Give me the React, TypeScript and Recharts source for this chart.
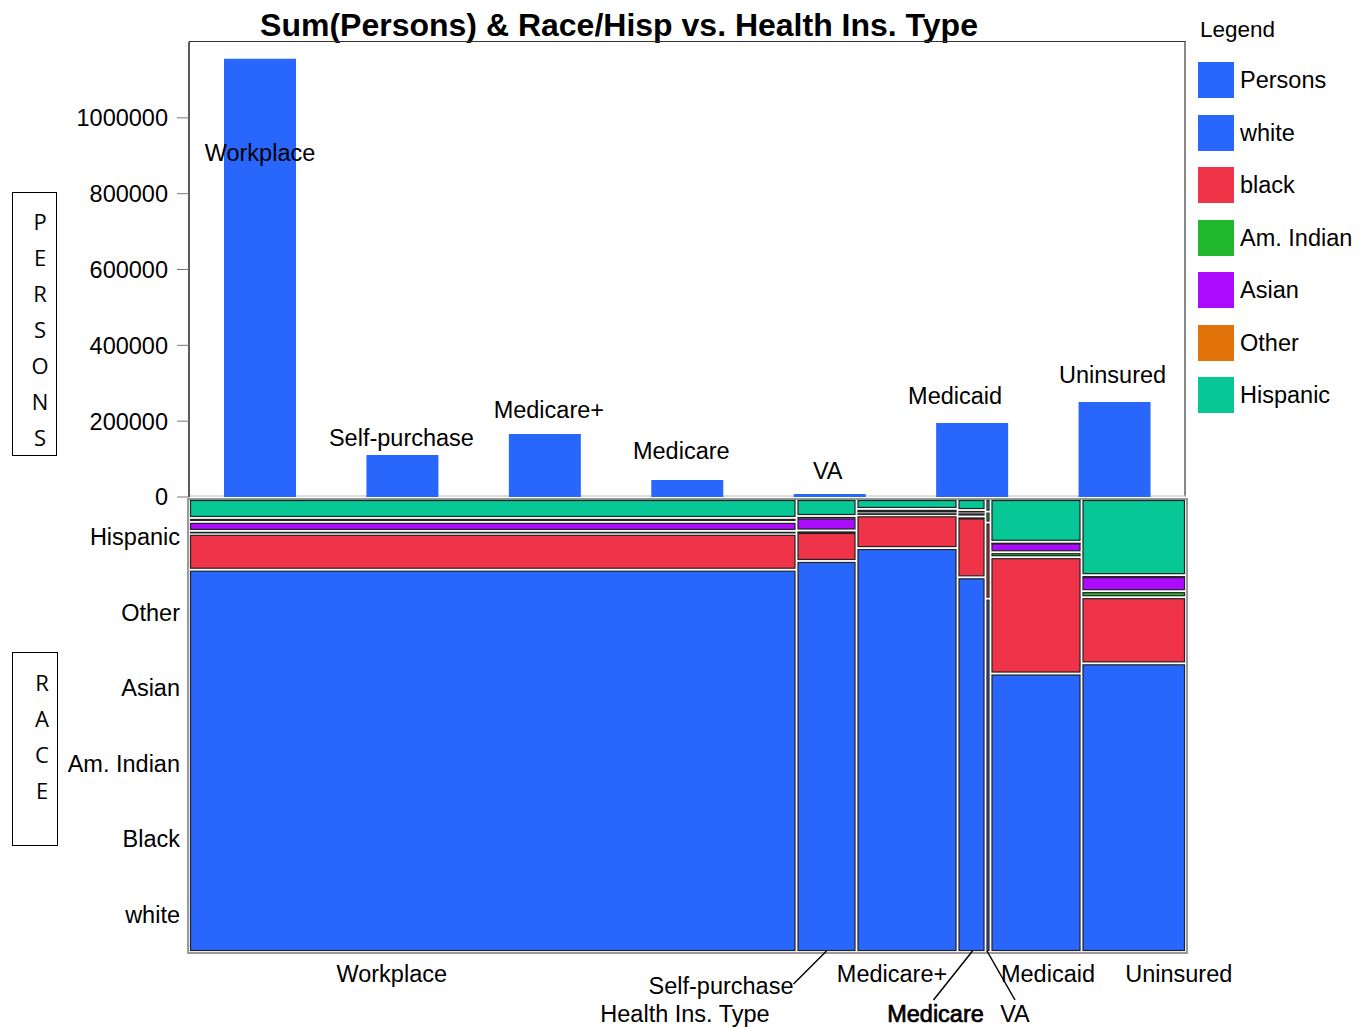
import React from "react";
import {
  BarChart,
  Bar,
  XAxis,
  YAxis,
  LabelList,
  ComposedChart,
  ReferenceArea,
  Scatter,
} from "recharts";

// ─── Data ─────────────────────────────────────────────────────────────────────

const insTypes = ["Workplace", "Self-purchase", "Medicare+", "Medicare", "VA", "Medicaid", "Uninsured"];
const persons = [1155700, 110800, 166200, 44900, 8000, 195250, 250660];
const personTicks = [0, 200000, 400000, 600000, 800000, 1000000];

// race order bottom -> top in the mosaic
const races = ["white", "black", "Am. Indian", "Asian", "Other", "Hispanic"];
const raceAxisLabels = ["white", "Black", "Am. Indian", "Asian", "Other", "Hispanic"];

// mosaic counts per health ins. type, in race order
const workplaceByRace = [51270, 4806, 400, 1202, 534, 2538];
const selfPurchaseByRace = [5179, 384, 20, 172, 20, 225];
const medicarePlusByRace = [9006, 730, 66, 55, 22, 221];
const medicareByRace = [2316, 370, 6, 25, 15, 68];
const vaByRace = [390, 84, 12, 0, 0, 14];
const medicaidByRace = [5594, 2337, 100, 200, 10, 859];
const uninsuredByRace = [6659, 1526, 139, 347, 23, 1756];

const mosaicCounts = [
  workplaceByRace,
  selfPurchaseByRace,
  medicarePlusByRace,
  medicareByRace,
  vaByRace,
  medicaidByRace,
  uninsuredByRace,
];

const legendItems = ["Persons", "white", "black", "Am. Indian", "Asian", "Other", "Hispanic"];

// ─── Styles ───────────────────────────────────────────────────────────────────

const BLUE = "#2967FC";
const raceColors = ["#2967FC", "#EF3348", "#22B82E", "#AD0BFF", "#E1730A", "#06C795"];
const legendColors = [BLUE, ...raceColors];
const FONT = "'Liberation Sans', Arial, sans-serif";
const FS = 23.5;

const W = 1371;
const H = 1028;
const PLOT_LEFT = 189;
const PLOT_RIGHT = 1186;

// ─── Derived ──────────────────────────────────────────────────────────────────

const barData = insTypes.map((t, i) => ({ type: t, persons: persons[i] }));

const colTotals = mosaicCounts.map((r) => r.reduce((a, b) => a + b, 0));
const grandTotal = colTotals.reduce((a, b) => a + b, 0);

type Cell = { x1: number; x2: number; y1: number; y2: number; color: string; key: string };
const cells: Cell[] = [];
const colCenters: number[] = [];
{
  let x0 = 0;
  mosaicCounts.forEach((row, i) => {
    const x1 = x0 + colTotals[i];
    colCenters.push((x0 + x1) / 2);
    let y0 = 0;
    row.forEach((v, j) => {
      const h = (v / colTotals[i]) * races.length;
      if (v > 0) cells.push({ x1: x0, x2: x1, y1: y0, y2: y0 + h, color: raceColors[j], key: `${i}-${j}` });
      y0 += h;
    });
    x0 = x1;
  });
}

// label placement for the mosaic x axis (relative to column centre, pixels)
const tickPlacement: Record<string, { dx: number; dy: number; anchor: string; line?: number[]; bold?: boolean }> = {
  Workplace: { dx: -101, dy: 22, anchor: "middle" },
  "Self-purchase": { dx: -33, dy: 34, anchor: "end", line: [-33, 32, 0, -1] },
  "Medicare+": { dx: -15, dy: 22, anchor: "middle" },
  Medicare: { dx: -36, dy: 62, anchor: "middle", line: [-38, 48, 1, -1], bold: true },
  VA: { dx: 27, dy: 62, anchor: "middle", line: [27, 48, -1, -1] },
  Medicaid: { dx: 12, dy: 22, anchor: "middle" },
  Uninsured: { dx: 45, dy: 22, anchor: "middle" },
};

// bar name placement above each bar (pixels from bar top centre)
const barLabelShift: Record<string, { dx: number; dy: number }> = {
  Workplace: { dx: 0, dy: 94 },
  "Self-purchase": { dx: -1, dy: -17 },
  "Medicare+": { dx: 4, dy: -24 },
  Medicare: { dx: -6, dy: -29 },
  VA: { dx: -2, dy: -23 },
  Medicaid: { dx: -17, dy: -27 },
  Uninsured: { dx: -2, dy: -27 },
};

function MosaicTick(props: any) {
  const { x, payload } = props;
  const idx = colCenters.findIndex((c) => Math.abs(c - payload.value) < 1e-6);
  if (idx < 0) return null;
  const name = insTypes[idx];
  const p = tickPlacement[name];
  const base = 952;
  return (
    <g>
      {p.line && (
        <line
          x1={x + p.line[0]}
          y1={base + p.line[1]}
          x2={x + p.line[2]}
          y2={base + p.line[3]}
          stroke="#000"
          strokeWidth={1.5}
        />
      )}
      <text
        x={x + p.dx}
        y={base + p.dy}
        textAnchor={p.anchor as any}
        dominantBaseline="central"
        fontFamily={FONT}
        fontSize={FS}
        fill="#000"
        stroke={p.bold ? "#000" : "none"}
        strokeWidth={p.bold ? 0.7 : 0}
      >
        {name}
      </text>
    </g>
  );
}

function BarName(props: any) {
  const { x, y, width, value } = props;
  const s = barLabelShift[value] || { dx: 0, dy: -25 };
  return (
    <text
      x={x + width / 2 + s.dx}
      y={y + s.dy}
      textAnchor="middle"
      dominantBaseline="central"
      fontFamily={FONT}
      fontSize={FS}
      fill="#000"
    >
      {value}
    </text>
  );
}

function MosaicCell({ color }: { color: string }) {
  return (props: any) => {
    const { x, y, width, height } = props;
    if (!(height > 0.2)) return <g />;
    const w = Math.max(width - 3, 0.5);
    const h = Math.max(height - 3, 0.5);
    return (
      <rect
        x={x + 1.5}
        y={y + 1.5}
        width={w}
        height={h}
        fill={color}
        stroke="#222"
        strokeWidth={1.2}
      />
    );
  };
}

function VerticalBox({ letters, left, top, width, height, firstY, letterX }: any) {
  return (
    <div
      style={{
        position: "absolute",
        left,
        top,
        width,
        height,
        border: "1.5px solid #000",
        boxSizing: "border-box",
      }}
    >
      {letters.split("").map((ch: string, i: number) => (
        <div
          key={i}
          style={{
            position: "absolute",
            left: letterX - 15,
            width: 30,
            top: firstY + i * 36 - 15,
            height: 30,
            lineHeight: "30px",
            textAlign: "center",
            fontFamily: "'Open Sans', sans-serif",
            fontSize: 22,
            color: "#000",
          }}
        >
          {ch}
        </div>
      ))}
    </div>
  );
}

export default function App() {
  return (
    <div
      style={{
        position: "fixed",
        left: 0,
        top: 0,
        width: W,
        height: H,
        background: "#fff",
        fontFamily: FONT,
        overflow: "hidden",
      }}
    >
      {/* Title */}
      <div
        style={{
          position: "absolute",
          left: 0,
          width: 1238,
          top: 6,
          textAlign: "center",
          fontWeight: "bold",
          fontSize: 32,
          lineHeight: "38px",
          color: "#000",
        }}
      >
        Sum(Persons) &amp; Race/Hisp vs. Health Ins. Type
      </div>

      {/* Top plot frame */}
      <div
        style={{
          position: "absolute",
          left: PLOT_LEFT,
          top: 41,
          width: PLOT_RIGHT - PLOT_LEFT,
          height: 456,
          borderTop: "1.5px solid #333",
          borderRight: "2px solid #888",
          borderBottom: "2px solid #ddd",
          boxSizing: "border-box",
        }}
      />

      {/* Top bar chart */}
      <div style={{ position: "absolute", left: 0, top: 0 }}>
        <BarChart
          width={W}
          height={510}
          data={barData}
          margin={{ top: 42, right: W - PLOT_RIGHT, bottom: 13, left: PLOT_LEFT - 80 }}
          barSize={72}
        >
          <XAxis dataKey="type" hide />
          <YAxis
            width={80}
            domain={[0, 1200000]}
            ticks={personTicks}
            interval={0}
            allowDataOverflow
            tickSize={12}
            tickMargin={9}
            tick={{ fontSize: FS, fill: "#000", fontFamily: FONT }}
            tickLine={{ stroke: "#777" }}
            axisLine={{ stroke: "#222", strokeWidth: 1.5 }}
          />
          <Bar dataKey="persons" fill={BLUE} isAnimationActive={false}>
            <LabelList dataKey="type" content={BarName} />
          </Bar>
        </BarChart>
      </div>

      {/* Mosaic frame */}
      <div
        style={{
          position: "absolute",
          left: PLOT_LEFT - 2,
          top: 498,
          width: PLOT_RIGHT - PLOT_LEFT + 4,
          height: 456,
          border: "2px solid #999",
          boxSizing: "border-box",
        }}
      />

      {/* Mosaic */}
      <div style={{ position: "absolute", left: 0, top: 0 }}>
        <ComposedChart
          width={W}
          height={H}
          data={colCenters.map((c) => ({ x: c, y: 0 }))}
          margin={{ top: 499, right: W - PLOT_RIGHT, bottom: 36, left: PLOT_LEFT - 100 }}
        >
          <XAxis
            type="number"
            dataKey="x"
            domain={[0, grandTotal]}
            ticks={colCenters}
            interval={0}
            height={40}
            tickSize={0}
            tickMargin={0}
            tickLine={false}
            axisLine={false}
            tick={<MosaicTick />}
            allowDataOverflow
          />
          <YAxis
            type="number"
            width={100}
            domain={[0, races.length]}
            ticks={races.map((_, i) => i + 0.5)}
            interval={0}
            tickSize={0}
            tickMargin={9}
            tickLine={false}
            axisLine={false}
            tickFormatter={(v: number) => raceAxisLabels[Math.floor(v)]}
            tick={{ fontSize: FS, fill: "#000", fontFamily: FONT }}
            allowDataOverflow
          />
          {cells.map((c) => (
            <ReferenceArea
              key={c.key}
              x1={c.x1}
              x2={c.x2}
              y1={c.y1}
              y2={c.y2}
              ifOverflow="visible"
              shape={MosaicCell({ color: c.color })}
            />
          ))}
          <Scatter dataKey="y" shape={() => <g />} isAnimationActive={false} />
        </ComposedChart>
      </div>

      {/* Axis title */}
      <div
        style={{
          position: "absolute",
          left: 585,
          width: 200,
          top: 1000,
          lineHeight: "28px",
          textAlign: "center",
          fontSize: FS,
          color: "#000",
        }}
      >
        Health Ins. Type
      </div>

      {/* Vertical axis titles */}
      <VerticalBox letters="PERSONS" left={12} top={192} width={45} height={264} firstY={28} letterX={27} />
      <VerticalBox letters="RACE" left={12} top={652} width={46} height={194} firstY={29} letterX={29} />

      {/* Legend */}
      <div
        style={{
          position: "absolute",
          left: 1200,
          top: 16,
          lineHeight: "28px",
          fontSize: 22.5,
          color: "#000",
        }}
      >
        Legend
      </div>
      {legendItems.map((name, i) => (
        <div key={name}>
          <div
            style={{
              position: "absolute",
              left: 1198,
              top: 62 + i * 52.5,
              width: 36,
              height: 36,
              background: legendColors[i],
            }}
          />
          <div
            style={{
              position: "absolute",
              left: 1240,
              top: 66 + i * 52.5,
              lineHeight: "28px",
              fontSize: FS,
              color: "#000",
            }}
          >
            {name}
          </div>
        </div>
      ))}
    </div>
  );
}
